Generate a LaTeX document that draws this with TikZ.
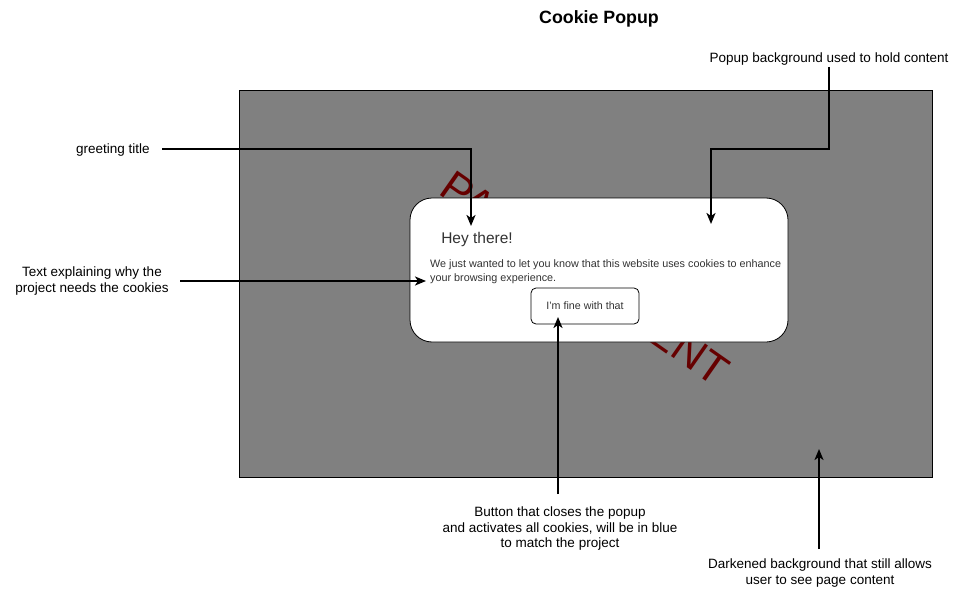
\documentclass[tikz,border=0pt]{standalone}
\usepackage{fontspec}
\setmainfont{Liberation Sans}
\usetikzlibrary{arrows.meta}
\definecolor{bggray}{HTML}{808080}
\definecolor{pagered}{HTML}{660000}
\definecolor{txtgray}{HTML}{333333}
\tikzset{
  lbl/.style={font=\fontsize{13.5}{15.5}\selectfont, align=center, inner sep=0pt, text=black},
  arr/.style={line width=2pt, -{Stealth[length=11pt,width=9pt,inset=3pt]}},
  popup/.style={draw=black, fill=white, line width=0.8pt, rounded corners=22pt},
  btn/.style={draw=black, fill=white, line width=0.8pt, rounded corners=5pt}
}
\begin{document}
\begin{tikzpicture}[x=1pt,y=-1pt]
\useasboundingbox (0,0) rectangle (959,594);
% title
\node[font=\fontsize{17.8}{20}\selectfont\bfseries, inner sep=0pt] (title) at (599,19) {Cookie Popup};
% darkened page
\draw[fill=bggray, draw=black, line width=0.8pt] (239,90) rectangle (932,477);
% page content text
\node[rotate=-35, anchor=base west, inner sep=0pt, text=pagered, font=\fontsize{43.5}{45}\selectfont] (pc) at (437,193) {PAGE CONTENT};
% popup
\draw[popup] (410,198) rectangle (788,342);
\node[font=\fontsize{15.5}{18}\selectfont, text=txtgray, inner sep=0pt] (hey) at (477,239) {Hey there!};
\node[font=\fontsize{10.8}{14}\selectfont, text=txtgray, align=left, anchor=north west, inner sep=0pt] (body) at (430,259) {We just wanted to let you know that this website uses cookies to enhance\\your browsing experience.};
\draw[btn] (531,288) rectangle (639,324);
\node[font=\fontsize{10.7}{12}\selectfont, text=txtgray, inner sep=0pt] (btntxt) at (585,306) {I'm fine with that};
% labels
\node[lbl] (lgreet) at (113,150) {greeting title};
\node[lbl] (ltext) at (92,281) {Text explaining why the\\project needs the cookies};
\node[lbl] (lpopup) at (829,59) {Popup background used to hold content};
\node[lbl] (lbtn) at (560,529) {Button that closes the popup\\and activates all cookies, will be in blue\\to match the project};
\node[lbl] (ldark) at (820,573) {Darkened background that still allows\\user to see page content};
% connector points
\coordinate (g0) at (162,149);
\coordinate (g1) at (471,226);
\coordinate (p0) at (829,67);
\coordinate (p1) at (711,224);
\coordinate (t0) at (180,281);
\coordinate (t1) at (426,281);
\coordinate (b0) at (558,494);
\coordinate (b1) at (558,317);
\coordinate (d0) at (819,549);
\coordinate (d1) at (819,449);
% connectors
\draw[arr] (g0) -| (g1);
\draw[arr] (p0) |- (770,149) -| (p1);
\draw[arr] (t0) -- (t1);
\draw[arr] (b0) -- (b1);
\draw[arr] (d0) -- (d1);
\end{tikzpicture}
\end{document}
